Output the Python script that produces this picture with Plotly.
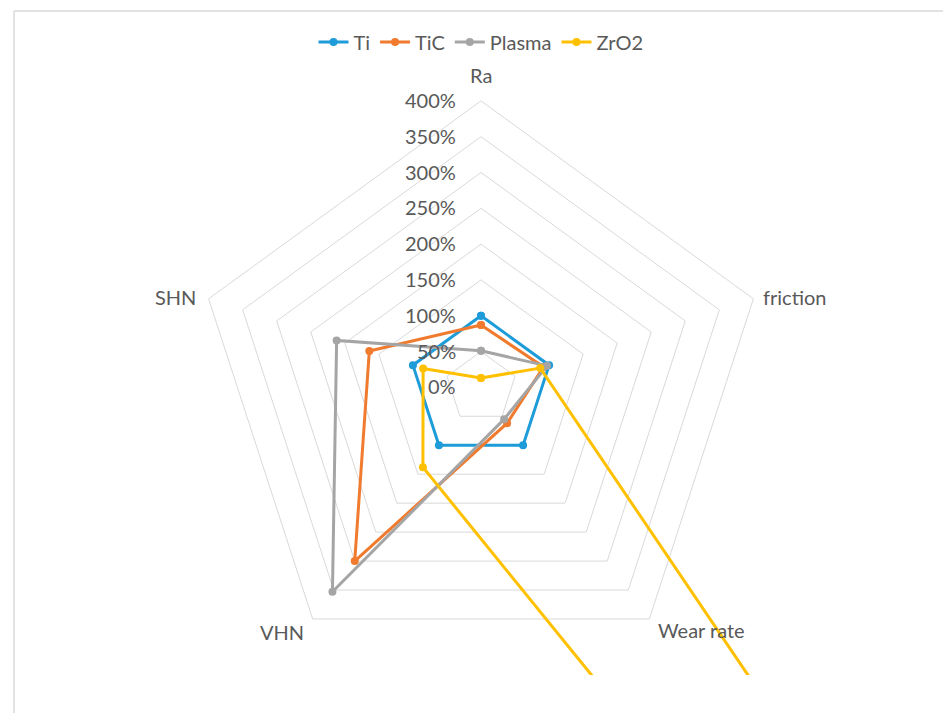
import math
import plotly.graph_objects as go

# Radar axes, clockwise from the top
categories = ["Ra", "friction", "Wear rate", "VHN", "SHN"]

# Relative values (%) for each coating
ti = [100, 100, 100, 100, 100]
tic = [87, 92, 62, 300, 164]
plasma = [51, 97, 55, 353, 212]
zro2 = [13, 87, 2500, 138, 85]

# Radial grid levels and their labels
ring_levels = [0, 50, 100, 150, 200, 250, 300, 350, 400]
ring_labels = ["0%", "50%", "100%", "150%", "200%", "250%", "300%", "350%", "400%"]

series = [
    ("Ti", ti, "#1E9BD9"),
    ("TiC", tic, "#F07B2E"),
    ("Plasma", plasma, "#A5A5A5"),
    ("ZrO2", zro2, "#FFC000"),
]

W, H = 943, 713
ML, MR, MT, MB = 14, 0, 11, 38
CX, CY = 481, 387.3          # centre of the radar, px
PX_PER_UNIT = 71.6           # px per 100 %

n = len(categories)
angles = [2 * math.pi * i / n for i in range(n)]


def to_xy(values):
    xs = [v / 100 * math.sin(a) for v, a in zip(values, angles)]
    ys = [v / 100 * math.cos(a) for v, a in zip(values, angles)]
    return xs + xs[:1], ys + ys[:1]


fig = go.Figure()

# Pentagonal grid rings
for lvl in ring_levels[1:]:
    gx, gy = to_xy([lvl] * n)
    fig.add_trace(go.Scatter(x=gx, y=gy, mode="lines",
                             line=dict(color="#D9D9D9", width=1),
                             hoverinfo="skip", showlegend=False))

# Data series
for name, vals, color in series:
    sx, sy = to_xy(vals)
    fig.add_trace(go.Scatter(x=sx, y=sy, mode="lines+markers", name=name,
                             line=dict(color=color, width=3),
                             marker=dict(color=color, size=8),
                             cliponaxis=True))

font_family = "Lato, 'Open Sans', sans-serif"
text_color = "#595959"
annotations = []

# Radial tick labels along the Ra spoke
for lvl, lab in zip(ring_levels, ring_labels):
    annotations.append(dict(x=0, y=lvl / 100, text=lab, showarrow=False,
                            xanchor="right", yanchor="middle", xshift=-23, yshift=1,
                            font=dict(family=font_family, size=20, color=text_color)))

# Category labels just outside the outer ring
rmax = ring_levels[-1] / 100
label_offsets = {
    "Ra": dict(xanchor="center", yanchor="middle", xshift=0, yshift=26),
    "friction": dict(xanchor="left", yanchor="middle", xshift=8, yshift=2),
    "Wear rate": dict(xanchor="left", yanchor="middle", xshift=7, yshift=-11),
    "VHN": dict(xanchor="right", yanchor="middle", xshift=-7, yshift=-13),
    "SHN": dict(xanchor="right", yanchor="middle", xshift=-11, yshift=2),
}
for cat, a in zip(categories, angles):
    annotations.append(dict(x=rmax * math.sin(a), y=rmax * math.cos(a), text=cat,
                            showarrow=False,
                            font=dict(family=font_family, size=20, color=text_color),
                            **label_offsets[cat]))

plot_w = W - ML - MR
plot_h = H - MT - MB
x_range = [(ML - CX) / PX_PER_UNIT, (W - MR - CX) / PX_PER_UNIT]
y_range = [-(H - MB - CY) / PX_PER_UNIT, (CY - MT) / PX_PER_UNIT]

fig.update_layout(
    width=W, height=H,
    margin=dict(l=ML, r=MR, t=MT, b=MB, pad=0),
    paper_bgcolor="white", plot_bgcolor="white",
    xaxis=dict(range=x_range, visible=False, fixedrange=True),
    yaxis=dict(range=y_range, visible=False, fixedrange=True),
    annotations=annotations,
    showlegend=True,
    legend=dict(orientation="h", x=(CX - ML) / plot_w, xanchor="center",
                y=1 - (42 - MT) / plot_h, yanchor="middle",
                font=dict(family=font_family, size=20, color=text_color),
                itemwidth=30, tracegroupgap=0, bgcolor="rgba(0,0,0,0)"),
    shapes=[
        dict(type="line", xref="paper", yref="paper", x0=0, x1=0, y0=-0.2, y1=1,
             line=dict(color="#D9D9D9", width=1.5)),
        dict(type="line", xref="paper", yref="paper", x0=0, x1=1.05, y0=1, y1=1,
             line=dict(color="#D9D9D9", width=1.5)),
    ],
)

fig.write_html("out.html")
